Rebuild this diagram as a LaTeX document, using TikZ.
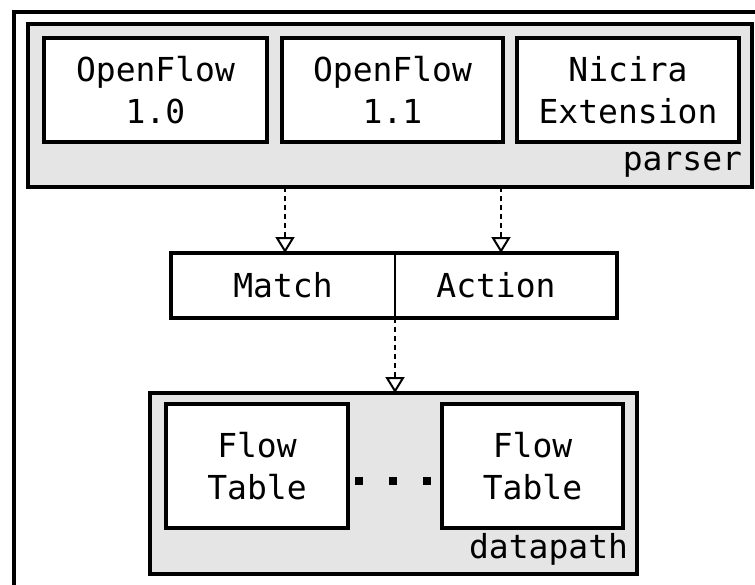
\documentclass[tikz,border=0pt]{standalone}
\usepackage{fontspec}
\setmonofont{DejaVu Sans Mono}
\usetikzlibrary{arrows.meta,calc}
\definecolor{panelgray}{HTML}{E5E5E5}
\tikzset{
  every node/.style={font=\ttfamily\fontsize{33}{42}\selectfont, inner sep=0pt, outer sep=0pt},
  panel/.style={draw, fill=panelgray, line width=3.5pt},
  block/.style={draw, fill=white, line width=3.5pt, align=center},
  cell/.style={draw, fill=white, line width=1.5pt},
  flow/.style={dash pattern=on 5pt off 4pt, line width=2pt,
    -{Triangle[open, width=19pt, length=16pt, line width=2pt]}},
  tag/.style={anchor=base east},
}
\begin{document}
\begin{tikzpicture}[x=1pt, y=-1pt]
\useasboundingbox (0,0) rectangle (755,584);
\clip (0,0) rectangle (755,584);
% outer frame, running past the right and bottom edges
\draw[line width=4.5pt] (14,12) rectangle (790,620);

% parser panel with its three protocol boxes
\node[panel, minimum width=724pt, minimum height=163pt] (parser) at (390,105.5) {};
\node[block, minimum width=223pt, minimum height=104pt] (of10) at (155.5,90) {OpenFlow\\1.0};
\node[block, minimum width=221pt, minimum height=104pt] (of11) at (392.5,90) {OpenFlow\\1.1};
\node[block, minimum width=222pt, minimum height=104pt] (nx) at (628,90) {Nicira\\Extension};
\node[tag] (parserlbl) at ($(parser.south east)+(-10,-17)$) {parser};

% match / action pair
\node[cell, minimum width=224pt, minimum height=65pt] (match) at (283,285.5) {Match};
\node[cell, minimum width=222pt, minimum height=65pt] (action) at (506,285.5) {};
\node (actiontext) at ($(action.center)+(-10,0)$) {Action};
\draw[line width=3.5pt] (match.north west) rectangle (action.south east);

% datapath panel with flow tables
\node[panel, minimum width=487pt, minimum height=181pt] (dp) at (393.5,483.5) {};
\node[block, minimum width=182pt, minimum height=124pt] (ft1) at (257,466) {Flow\\Table};
\node[block, minimum width=181pt, minimum height=124pt] (ft2) at (532.5,466) {Flow\\Table};
\node[tag] (dplbl) at ($(dp.south east)+(-9,-16)$) {datapath};
\draw[line width=8pt, dash pattern=on 8pt off 26pt]
  ($(ft1.east)+(7,15)$) coordinate (dotsA) -- ($(ft2.west)+(-11,15)$) coordinate (dotsB);

% connectors
\coordinate (matchin) at ($(match.north)+(2,0)$);
\coordinate (actionin) at ($(action.north)+(-5,0)$);
\draw[flow] (parser.south -| matchin) -- (matchin);
\draw[flow] (parser.south -| actionin) -- (actionin);
\draw[flow] (match.south east) -- (dp.north -| match.south east);
\end{tikzpicture}
\end{document}
